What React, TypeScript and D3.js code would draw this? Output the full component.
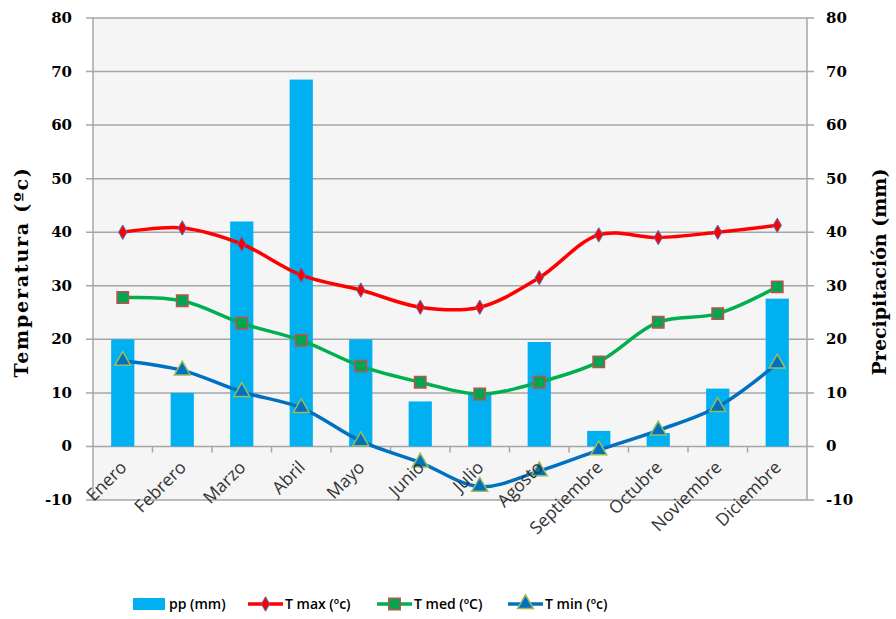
import React from "react";
import * as d3 from "d3";

const months = [
  "Enero",
  "Febrero",
  "Marzo",
  "Abril",
  "Mayo",
  "Junio",
  "Julio",
  "Agosto",
  "Septiembre",
  "Octubre",
  "Noviembre",
  "Diciembre",
];
const pp = [20, 10, 42, 68.5, 20, 8.4, 9.8, 19.5, 2.9, 2.5, 10.8, 27.6];
const tMax = [40, 40.8, 37.8, 32, 29.2, 26, 26, 31.5, 39.5, 39, 40, 41.3];
const tMed = [27.8, 27.2, 23, 19.8, 15, 12, 9.8, 12, 15.8, 23.2, 24.8, 29.8];
const tMin = [16, 14.2, 10.2, 7.2, 1, -3, -7.5, -4.6, -0.7, 3, 7.4, 15.5];
const ticks = [80, 70, 60, 50, 40, 30, 20, 10, 0, -10];

const W = 896;
const H = 619;
const margin = { top: 18, right: 89, bottom: 120, left: 93 };

const App = () => {
  const x = d3
    .scaleBand<string>()
    .domain(months)
    .range([margin.left, W - margin.right]);
  const y = d3
    .scaleLinear()
    .domain([-10, 80])
    .range([H - margin.bottom + 1, margin.top]);
  // precipitation uses the same 80/-10 scale on the right
  const y2 = y.copy();

  const cx = (m: string) => (x(m) as number) + x.bandwidth() / 2;
  const line = d3
    .line<number>()
    .x((d, i) => cx(months[i]))
    .y((d) => y(d))
    .curve(d3.curveCatmullRom.alpha(0.5));

  const barW = x.bandwidth() * 0.39;
  const numFont = "'DejaVu Serif', serif";
  const catFont = "'Open Sans', sans-serif";

  const diamond = d3.symbol(d3.symbolDiamond, 60)() as string;
  const square = d3.symbol(d3.symbolSquare, 130)() as string;
  const triangle = d3.symbol(d3.symbolTriangle, 110)() as string;

  const series = [
    { data: tMax, color: "#ff0000", marker: diamond, fill: "#ff0000", stroke: "#4f6fbd", sw: 1 },
    { data: tMed, color: "#00b050", marker: square, fill: "#00a650", stroke: "#c0504d", sw: 1.5 },
    { data: tMin, color: "#0070c0", marker: triangle, fill: "#0070c0", stroke: "#9bbb59", sw: 1.5 },
  ];

  const legend = [
    { label: "T max (ºc)", x: 248, s: series[0] },
    { label: "T med (ºC)", x: 377, s: series[1] },
    { label: "T min (ºc)", x: 508, s: series[2] },
  ];

  const x0 = margin.left;
  const x1 = W - margin.right;

  return (
    <svg width={W} height={H} style={{ position: "absolute", left: 0, top: 0 }}>
      <rect width={W} height={H} fill="#ffffff" />
      <rect x={x0} y={y(80)} width={x1 - x0} height={y(-10) - y(80)} fill="#f5f5f5" />

      {/* gridlines + ticks */}
      {ticks.map((t) => (
        <line key={t} x1={x0 - 7} x2={x1 + 7} y1={y(t)} y2={y(t)} stroke="#a6a6a6" strokeWidth={1.5} />
      ))}
      <line x1={x0} x2={x0} y1={y(80)} y2={y(-10)} stroke="#a6a6a6" strokeWidth={1.5} />
      <line x1={x1} x2={x1} y1={y(80)} y2={y(-10)} stroke="#a6a6a6" strokeWidth={1.5} />

      {/* bars */}
      {pp.map((v, i) => (
        <rect
          key={months[i]}
          x={cx(months[i]) - barW / 2}
          y={y2(v)}
          width={barW}
          height={y2(0) - y2(v)}
          fill="#00b0f0"
        />
      ))}

      {/* category ticks on the 0 line */}
      {months.slice(1).map((m) => (
        <line key={m} x1={x(m)} x2={x(m)} y1={y(0)} y2={y(0) + 6} stroke="#a6a6a6" strokeWidth={1.5} />
      ))}

      {/* lines */}
      {series.map((s, k) => (
        <g key={k}>
          <path d={line(s.data) as string} fill="none" stroke={s.color} strokeWidth={3.5} />
          {s.data.map((v, i) => (
            <path
              key={i}
              d={s.marker}
              transform={`translate(${cx(months[i])},${y(v)})`}
              fill={s.fill}
              stroke={s.stroke}
              strokeWidth={s.sw}
            />
          ))}
        </g>
      ))}

      {/* left axis labels */}
      {ticks.map((t) => (
        <text key={t} x={72} y={y(t) + 5} textAnchor="end" fontFamily={numFont} fontWeight="bold" fontSize={15} fill="#000">
          {t}
        </text>
      ))}
      {/* right axis labels */}
      {ticks.map((t) => (
        <text key={t} x={826} y={y2(t) + 5} textAnchor="start" fontFamily={numFont} fontWeight="bold" fontSize={15} fill="#000">
          {t}
        </text>
      ))}

      {/* category labels */}
      {months.map((m) => (
        <text
          key={m}
          transform={`translate(${cx(m) + 5},${y(0) + 22}) rotate(-45)`}
          textAnchor="end"
          fontFamily={catFont}
          fontSize={17.5}
          fill="#333333"
        >
          {m}
        </text>
      ))}

      {/* axis titles */}
      <text
        transform={`translate(28,${272}) rotate(-90)`}
        textAnchor="middle"
        fontFamily={numFont}
        fontWeight="bold"
        fontSize={19}
        letterSpacing={1.8}
        fill="#000"
      >
        Temperatura (ºc)
      </text>
      <text
        transform={`translate(886,${272}) rotate(-90)`}
        textAnchor="middle"
        fontFamily={numFont}
        fontWeight="bold"
        fontSize={19}
        fill="#000"
      >
        Precipitación (mm)
      </text>

      {/* legend */}
      <rect x={133} y={598} width={32} height={12} fill="#00b0f0" />
      <text x={169} y={609} fontFamily={catFont} fontWeight={600} fontSize={14} fill="#000">
        pp (mm)
      </text>
      {legend.map((l) => (
        <g key={l.label}>
          <line x1={l.x} x2={l.x + 35} y1={604} y2={604} stroke={l.s.color} strokeWidth={3.5} />
          <path d={l.s.marker} transform={`translate(${l.x + 17.5},604)`} fill={l.s.fill} stroke={l.s.stroke} strokeWidth={l.s.sw} />
          <text x={l.x + 37} y={609} fontFamily={catFont} fontWeight={600} fontSize={14} fill="#000">
            {l.label}
          </text>
        </g>
      ))}
    </svg>
  );
};

export default App;
